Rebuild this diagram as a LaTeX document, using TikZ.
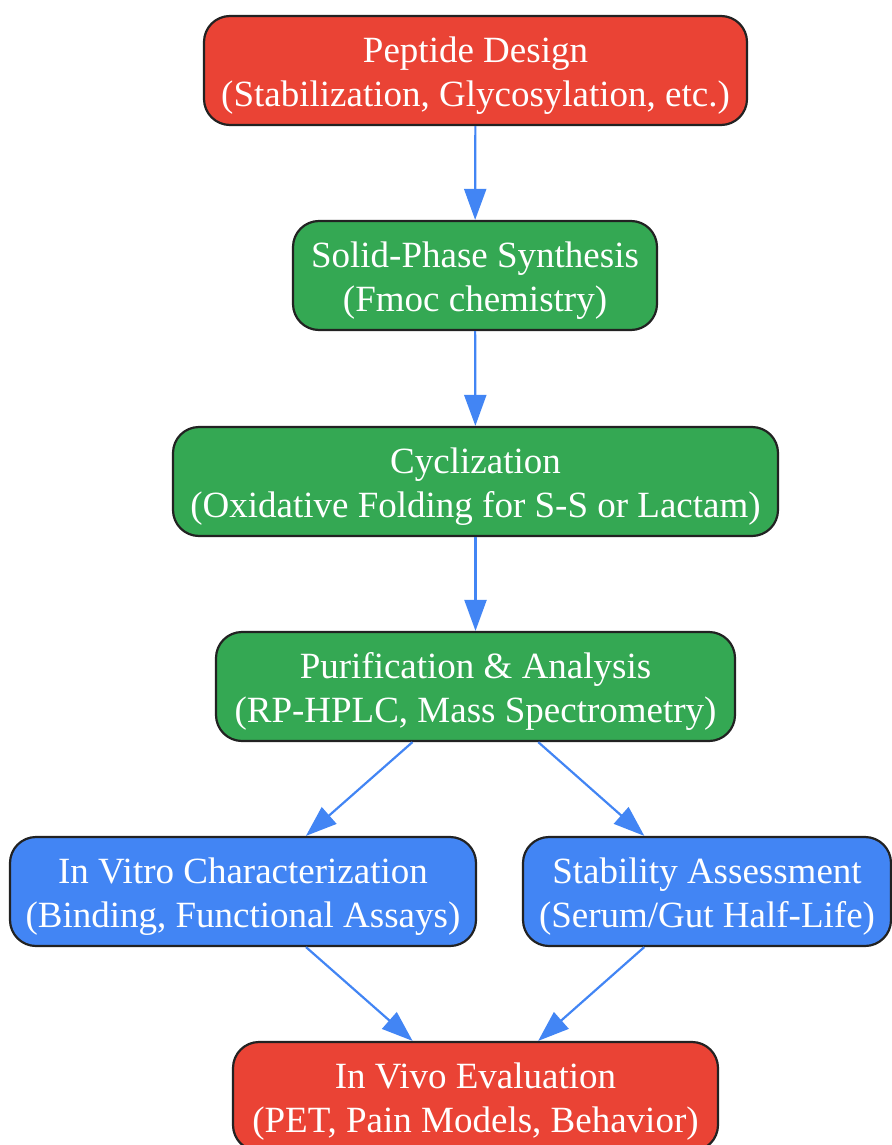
\documentclass[tikz,border=0pt]{standalone}
\usepackage{fontspec}
\setmainfont{Liberation Serif}
\usetikzlibrary{arrows.meta}
\definecolor{gred}{HTML}{EA4335}
\definecolor{ggreen}{HTML}{34A853}
\definecolor{gblue}{HTML}{4285F4}
\definecolor{bord}{HTML}{222222}
\begin{document}
\begin{tikzpicture}[x=1pt,y=-1pt,
  txt/.style={text=white,align=center,inner sep=0pt,yshift=-5pt,
    font=\fontsize{37}{44}\selectfont},
  box/.style={draw=bord,line width=2.2pt,rounded corners=26pt,
    minimum height=109pt,inner sep=0pt,label={[txt]center:{#1}}},
  redbox/.style={box={#1},fill=gred},
  greenbox/.style={box={#1},fill=ggreen},
  bluebox/.style={box={#1},fill=gblue},
  conn/.style={draw=gblue,line width=2.2pt,-{Triangle[length=31pt,width=22pt]}}]
\useasboundingbox (0,0) rectangle (891,1145);
\node[redbox={Peptide Design\\(Stabilization, Glycosylation, etc.)},minimum width=543pt] (design) at (475.5,70.5) {};
\node[greenbox={Solid-Phase Synthesis\\(Fmoc chemistry)},minimum width=364pt] (spps) at (475,275.5) {};
\node[greenbox={Cyclization\\(Oxidative Folding for S-S or Lactam)},minimum width=605pt] (cyc) at (475.5,481.5) {};
\node[greenbox={Purification \& Analysis\\(RP-HPLC, Mass Spectrometry)},minimum width=519pt] (pur) at (475.5,686.5) {};
\node[bluebox={In Vitro Characterization\\(Binding, Functional Assays)},minimum width=466pt] (vitro) at (243,891.5) {};
\node[bluebox={Stability Assessment\\(Serum/Gut Half-Life)},minimum width=368pt] (stab) at (707,891.5) {};
\node[redbox={In Vivo Evaluation\\(PET, Pain Models, Behavior)},minimum width=485pt] (vivo) at (475.5,1096.5) {};
\draw[conn] (design) -- (spps);
\draw[conn] (spps) -- (cyc);
\draw[conn] (cyc) -- (pur);
\draw[conn] (pur) -- (vitro);
\draw[conn] (pur) -- (stab);
\draw[conn] (vitro) -- (vivo);
\draw[conn] (stab) -- (vivo);
\end{tikzpicture}
\end{document}
